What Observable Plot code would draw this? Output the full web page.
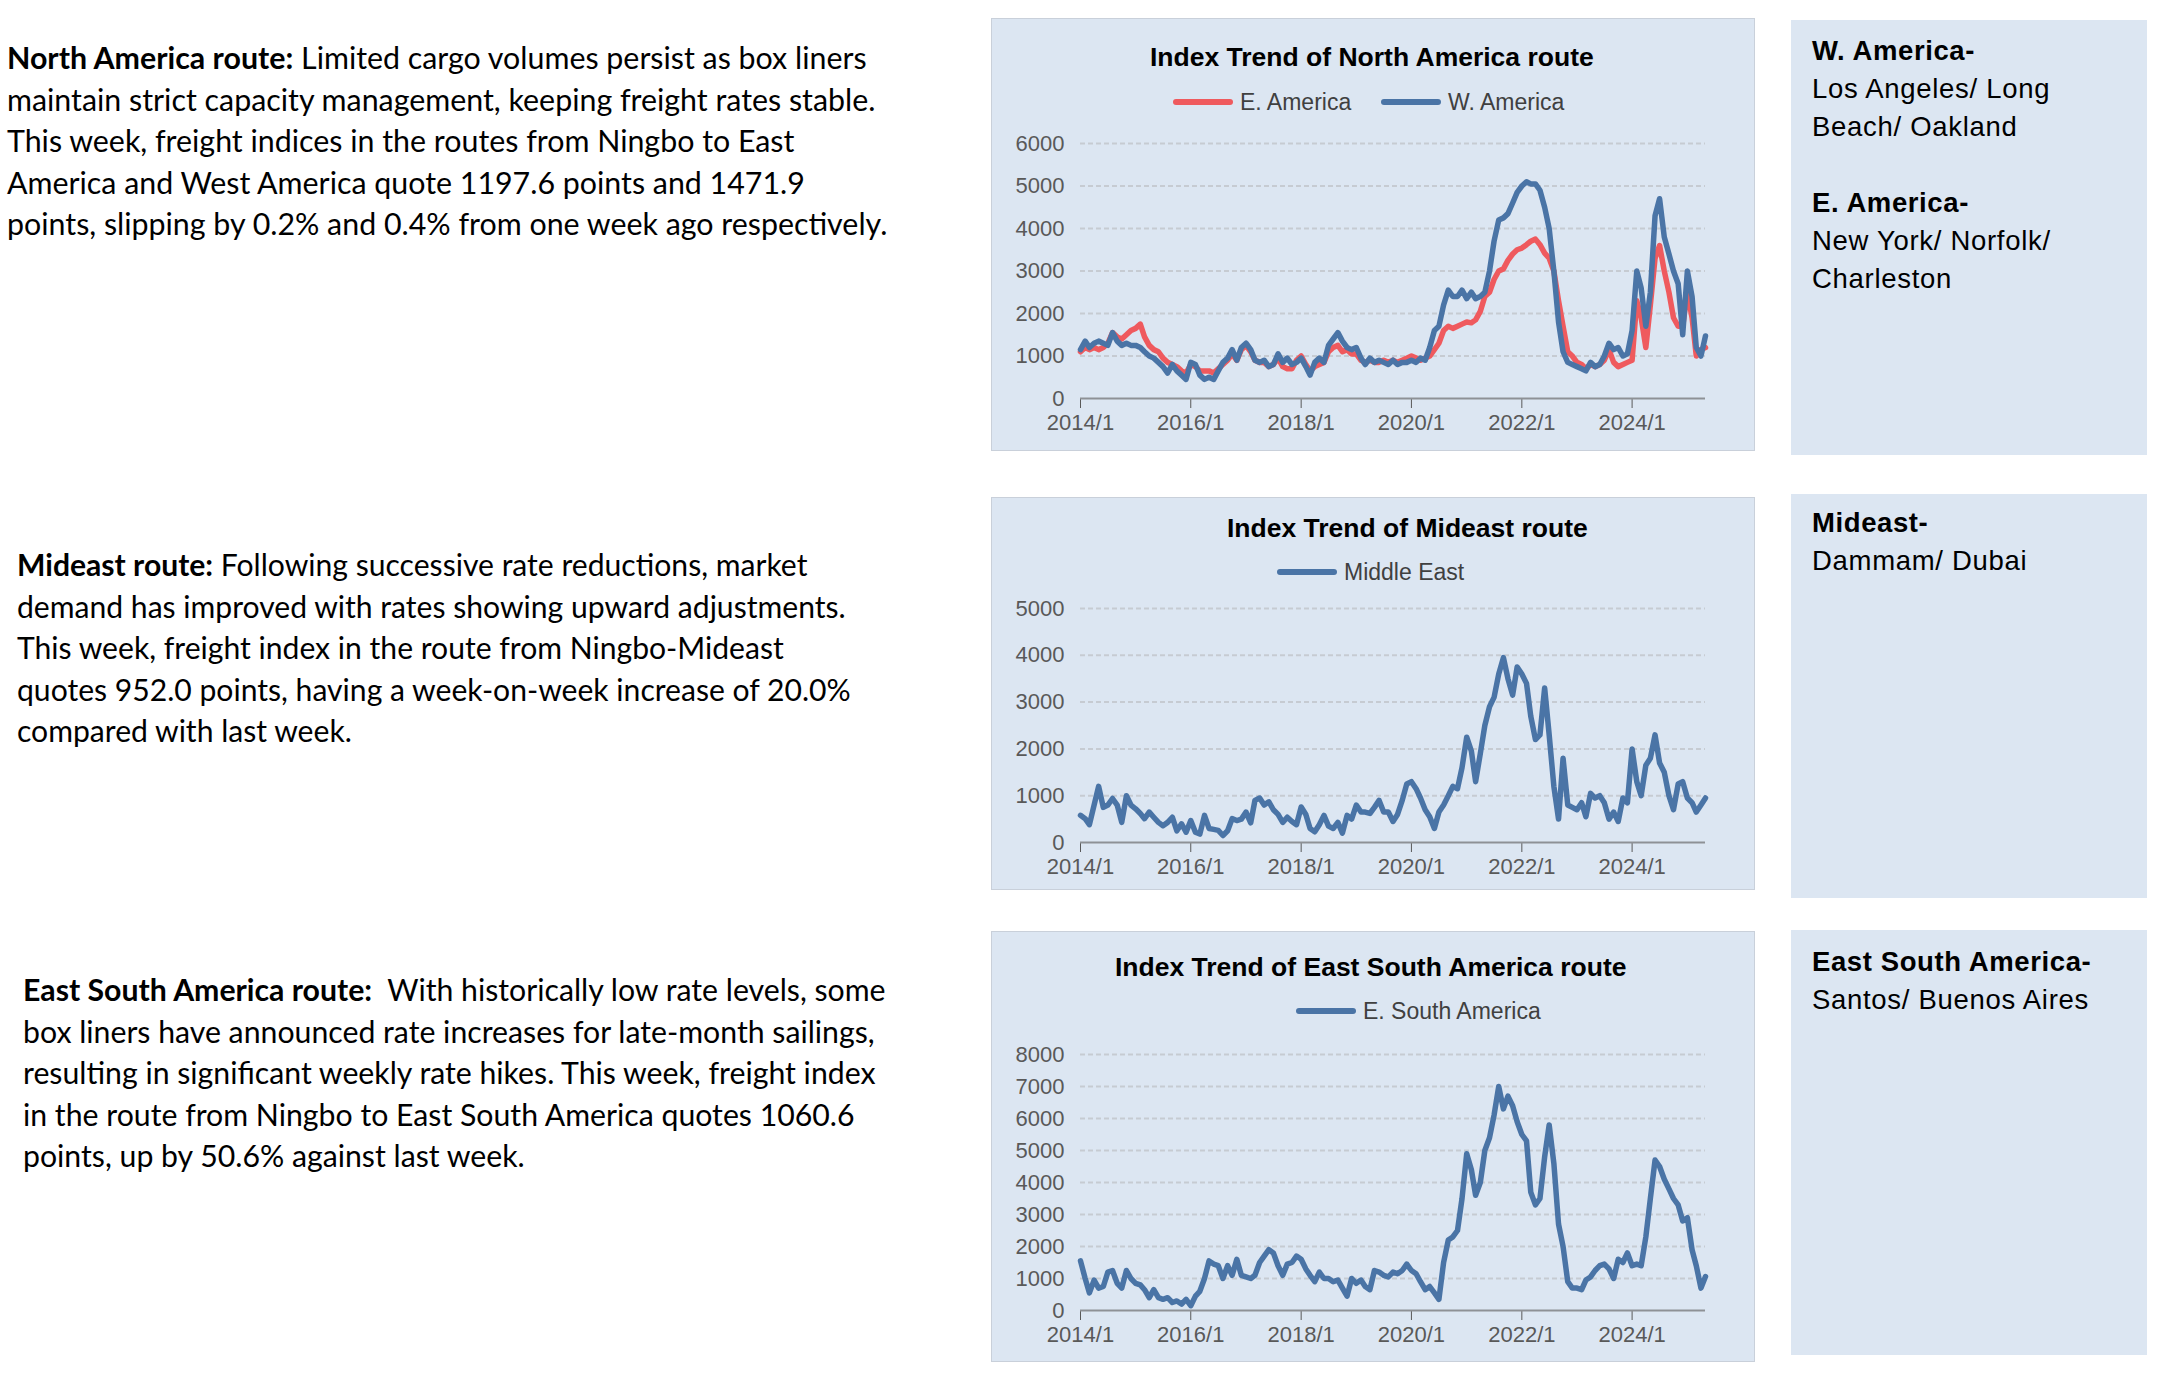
<!DOCTYPE html>
<html>
<head>
<meta charset="utf-8">
<script src="https://cdn.jsdelivr.net/npm/d3@7"></script>
<script src="https://cdn.jsdelivr.net/npm/@observablehq/plot@0.6"></script>
<style>
html,body{margin:0;padding:0;background:#fff;}
body{width:2163px;height:1380px;position:relative;overflow:hidden;}
.para{position:absolute;font-family:Lato,"Noto Sans",sans-serif;font-size:26px;color:#000;line-height:41.4px;white-space:nowrap;}
.para b{font-weight:700;}
.panel{position:absolute;background:#DCE6F2;border:1.5px solid #C9D0DA;box-sizing:border-box;}
.side{position:absolute;background:#DCE6F2;}
.side .t{position:absolute;left:21px;font-family:"Liberation Sans",Arial,sans-serif;font-size:27.5px;line-height:38px;color:#000;letter-spacing:0.7px;white-space:nowrap;}
.side .t b{letter-spacing:0.6px;}
.ctitle{position:absolute;font-family:"Liberation Sans",Arial,sans-serif;font-weight:700;font-size:26.5px;line-height:30px;color:#000;white-space:nowrap;}
.leg{position:absolute;display:flex;align-items:center;height:30px;font-family:"Liberation Sans",Arial,sans-serif;font-size:23px;color:#404040;white-space:nowrap;}
.sw{display:inline-block;width:60px;height:6px;border-radius:3px;margin-right:7px;}
.chart{position:absolute;}
</style>
</head>
<body>
<div id="root"></div>
<script>
// ---------------- data (monthly 2014/1 - 2025/5) ----------------
const startYear = 2014;
const xTickYears = [2014, 2016, 2018, 2020, 2022, 2024];

const eAmerica = [
 1100,1200,1150,1200,1150,1200,1300,1550,1450,1400,1500,1600,
 1650,1750,1450,1250,1150,1100,950,850,800,750,650,600,
 800,750,650,650,650,600,700,800,900,1050,900,1150,
 1250,1100,900,850,850,750,800,950,750,700,700,900,
 1000,800,650,750,800,850,1100,1200,1250,1100,1150,1050,
 1050,900,850,900,850,850,900,850,900,850,900,950,
 1000,950,900,950,1000,1150,1300,1600,1700,1650,1700,1750,
 1800,1780,1850,2050,2400,2500,2800,3000,3050,3250,3400,3500,
 3540,3620,3700,3750,3620,3420,3300,3000,2300,1700,1100,1000,
 850,800,700,800,750,800,900,1150,850,750,800,850,
 900,2300,1900,1200,2200,3300,3600,3000,2500,1900,1700,1700,
 2500,1900,1000,1150,1198
];
const wAmerica = [
 1150,1350,1200,1300,1350,1300,1250,1550,1350,1250,1300,1250,
 1250,1200,1100,1000,950,850,750,600,800,650,550,450,
 850,800,550,450,500,450,650,850,950,1150,900,1200,
 1300,1150,900,850,900,750,800,1050,850,950,800,850,
 950,750,550,850,950,850,1250,1400,1550,1350,1200,1150,
 1200,950,800,950,850,900,850,800,900,800,850,850,
 900,850,950,900,1200,1600,1700,2200,2550,2400,2400,2550,
 2350,2500,2350,2400,2500,3000,3700,4200,4250,4350,4600,4850,
 5000,5100,5050,5050,4900,4500,4000,3000,1800,1100,850,800,
 750,700,650,850,750,800,1000,1300,1150,1200,1000,1050,
 1600,3000,2600,1700,2500,4300,4700,3800,3400,3000,2700,1500,
 3000,2400,1200,1000,1472
];
const middleEast = [
 580,510,380,800,1200,750,800,940,800,430,1000,800,
 720,620,510,650,540,430,360,430,540,250,400,220,
 470,220,180,580,300,280,260,150,250,510,470,500,
 650,420,900,950,800,870,700,600,430,540,450,380,
 760,600,300,230,380,580,350,300,430,200,580,500,
 800,650,650,620,750,900,650,650,450,600,900,1250,
 1300,1150,950,700,550,300,650,800,1000,1200,1150,1600,
 2250,1950,1300,1900,2500,2900,3100,3600,3950,3500,3150,3750,
 3600,3400,2700,2200,2300,3300,2300,1200,500,1800,800,750,
 700,850,550,1050,950,1000,850,500,650,450,950,850,
 2000,1300,1000,1650,1800,2300,1700,1500,1000,700,1250,1300,
 950,850,650,800,952
];
const eSouthAmerica = [
 1550,1000,550,950,700,750,1200,1250,850,700,1250,1000,
 850,800,650,400,650,400,350,400,250,300,200,350,
 150,450,600,1000,1550,1450,1400,1000,1400,1100,1600,1100,
 1050,1000,1100,1500,1700,1900,1800,1400,1100,1450,1500,1700,
 1600,1300,1100,900,1200,1000,1000,900,950,700,450,1000,
 850,950,750,650,1250,1200,1100,1050,1200,1150,1250,1450,
 1250,1150,900,650,750,550,350,1500,2200,2300,2500,3500,
 4900,4400,3600,4000,5000,5400,6100,7000,6300,6700,6400,5900,
 5500,5300,3700,3300,3500,4800,5800,4600,2700,2000,900,700,
 700,650,950,1050,1250,1400,1450,1300,1000,1600,1500,1800,
 1400,1450,1400,2300,3500,4700,4500,4100,3800,3500,3300,2800,
 2900,1900,1400,700,1061
];

const chartTitles = ["Index Trend of North America route", "Index Trend of Mideast route", "Index Trend of East South America route"];
const seriesNames = {eAmerica: "E. America", wAmerica: "W. America", middleEast: "Middle East", eSouthAmerica: "E. South America"};

const paragraphs = [
 ["<b>North America route:</b> Limited cargo volumes persist as box liners",
  "maintain strict capacity management, keeping freight rates stable.",
  "This week, freight indices in the routes from Ningbo to East",
  "America and West America quote 1197.6 points and 1471.9",
  "points, slipping by 0.2% and 0.4% from one week ago respectively."],
 ["<b>Mideast route:</b> Following successive rate reductions, market",
  "demand has improved with rates showing upward adjustments.",
  "This week, freight index in the route from Ningbo-Mideast",
  "quotes 952.0 points, having a week-on-week increase of 20.0%",
  "compared with last week."],
 ["<b>East South America route:</b>&nbsp; With historically low rate levels, some",
  "box liners have announced rate increases for late-month sailings,",
  "resulting in significant weekly rate hikes. This week, freight index",
  "in the route from Ningbo to East South America quotes 1060.6",
  "points, up by 50.6% against last week."]
];
const sideTexts = [
 ["<b>W. America-</b>", "Los Angeles/ Long", "Beach/ Oakland", "&nbsp;", "<b>E. America-</b>", "New York/ Norfolk/", "Charleston"],
 ["<b>Mideast-</b>", "Dammam/ Dubai"],
 ["<b>East South America-</b>", "Santos/ Buenos Aires"]
];

// ---------------- layout ----------------
const root = document.getElementById("root");
function el(tag, cls, style, html) {
  const e = document.createElement(tag);
  if (cls) e.className = cls;
  Object.assign(e.style, style || {});
  if (html != null) e.innerHTML = html;
  root.appendChild(e);
  return e;
}

// left paragraphs
const paraLayout = [
  {left: 7, firstCenter: 58, fitLine: 1, target: 869},
  {left: 17, firstCenter: 565, fitLine: 1, target: 829},
  {left: 23, firstCenter: 990, fitLine: 1, target: 852}
];
paragraphs.forEach((lines, i) => {
  const L = paraLayout[i];
  const p = el("div", "para", {left: L.left + "px", top: (L.firstCenter - 20.7) + "px"},
    lines.map(s => `<span class="ln">${s}</span>`).join("<br>"));
  const span = p.querySelectorAll(".ln")[L.fitLine];
  const w = span.getBoundingClientRect().width;
  p.style.fontSize = (26 * L.target / w) + "px";
});

// side panels
const sideLayout = [{top: 20, h: 435, textTop: 12}, {top: 494, h: 404, textTop: 10}, {top: 930, h: 425, textTop: 13}];
sideTexts.forEach((lines, i) => {
  const S = sideLayout[i];
  const d = el("div", "side", {left: "1791px", top: S.top + "px", width: "356px", height: S.h + "px"});
  const t = document.createElement("div");
  t.className = "t";
  t.style.top = S.textTop + "px";
  t.innerHTML = lines.join("<br>");
  d.appendChild(t);
});

// chart panels
const BLUE = "#4A74A6", RED = "#EF5A5E";
const panelLeft = 991, panelW = 764;
const panelLayout = [
  {top: 18, h: 433, titleLeft: 1150, titleCenter: 57, legCenter: 102, svgTop: 123, svgH: 320, yMax: 6000,
   legend: [{key: "eAmerica", left: 1173, color: RED}, {key: "wAmerica", left: 1381, color: BLUE}],
   series: [{key: "eAmerica", data: eAmerica, color: RED}, {key: "wAmerica", data: wAmerica, color: BLUE}]},
  {top: 497, h: 393, titleLeft: 1227, titleCenter: 528, legCenter: 572, svgTop: 588, svgH: 299, yMax: 5000,
   legend: [{key: "middleEast", left: 1277, color: BLUE}],
   series: [{key: "middleEast", data: middleEast, color: BLUE}]},
  {top: 931, h: 431, titleLeft: 1115, titleCenter: 967, legCenter: 1011, svgTop: 1034, svgH: 321, yMax: 8000,
   legend: [{key: "eSouthAmerica", left: 1296, color: BLUE}],
   series: [{key: "eSouthAmerica", data: eSouthAmerica, color: BLUE}]}
];

const monthDate = i => new Date(Date.UTC(startYear, i, 1));
const xTicks = xTickYears.map(y => new Date(Date.UTC(y, 0, 1)));

panelLayout.forEach((P, ci) => {
  el("div", "panel", {left: panelLeft + "px", top: P.top + "px", width: panelW + "px", height: P.h + "px"});
  el("div", "ctitle", {left: P.titleLeft + "px", top: (P.titleCenter - 15) + "px"}, chartTitles[ci]);
  P.legend.forEach(L => {
    el("div", "leg", {left: L.left + "px", top: (P.legCenter - 15) + "px"},
      `<span class="sw" style="background:${L.color}"></span>${seriesNames[L.key]}`);
  });

  const n = P.series[0].data.length;
  const domain = [monthDate(0), monthDate(n - 1)];
  const yTicks = d3.range(0, P.yMax + 1, 1000);
  const marks = [
    Plot.ruleY(yTicks.filter(v => v > 0), {stroke: "#C6CBD2", strokeWidth: 2, strokeDasharray: "5,3"})
  ];
  P.series.forEach(s => {
    const rows = s.data.map((v, i) => ({date: monthDate(i), value: v}));
    marks.push(Plot.lineY(rows, {x: "date", y: "value", stroke: s.color, strokeWidth: 5.5, strokeLinejoin: "round", strokeLinecap: "round"}));
  });
  marks.push(Plot.ruleY([0], {stroke: "#8E9196", strokeWidth: 2}));

  const chart = Plot.plot({
    width: panelW,
    height: P.svgH,
    marginLeft: 89,
    marginRight: 50,
    marginTop: 20,
    marginBottom: 45,
    style: {background: "transparent", fontFamily: "'Liberation Sans', Arial, sans-serif", fontSize: "22px", color: "#595959", overflow: "visible"},
    x: {type: "utc", domain, ticks: xTicks, tickFormat: d => d.getUTCFullYear() + "/1", tickSize: 10, tickPadding: 6, label: null},
    y: {domain: [0, P.yMax], ticks: yTicks, tickFormat: "d", tickSize: 0, tickPadding: 16, label: null},
    marks
  });
  const wrap = el("div", "chart", {left: panelLeft + "px", top: P.svgTop + "px"});
  wrap.appendChild(chart);
});
</script>
</body>
</html>
